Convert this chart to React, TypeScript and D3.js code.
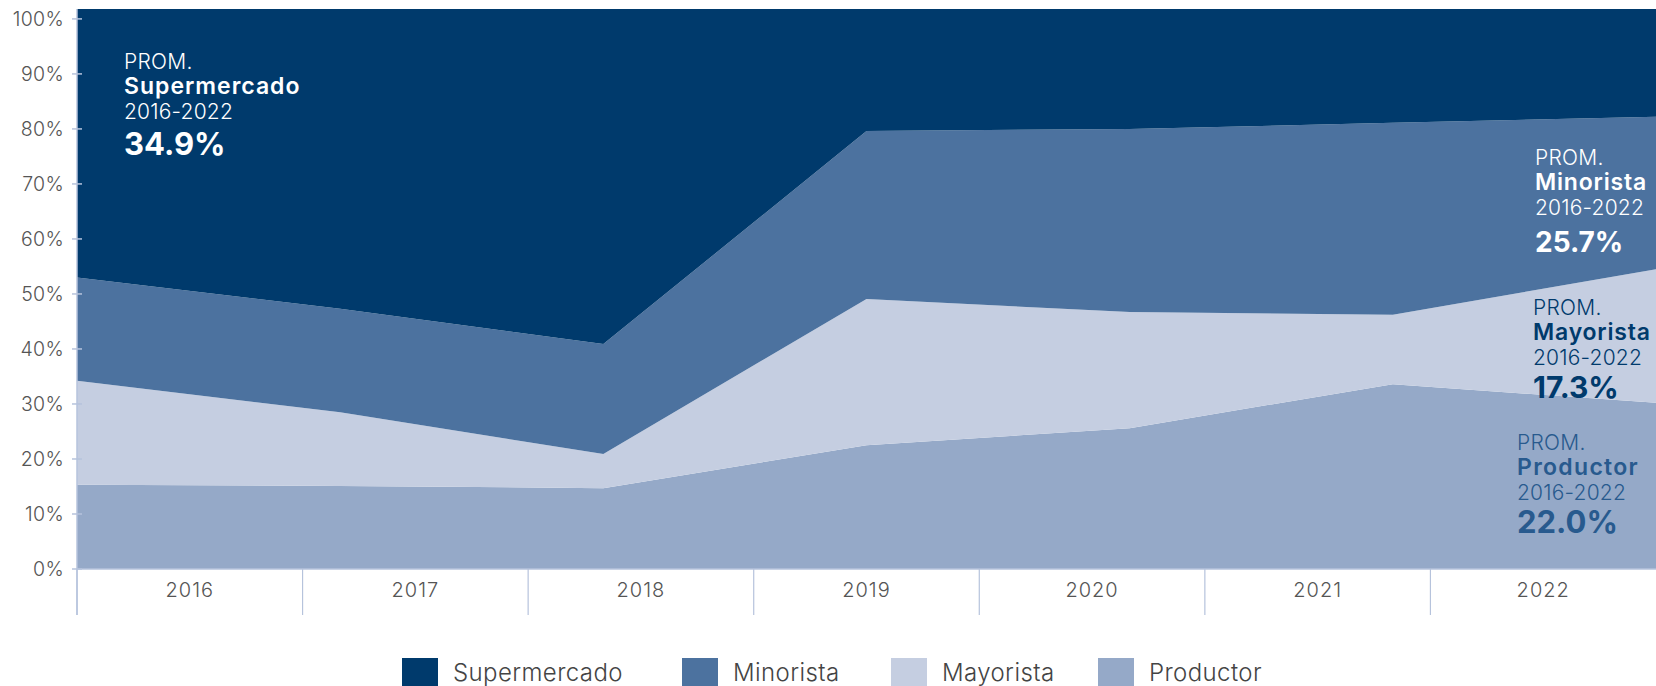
import React from "react";
import * as d3 from "d3";

const years = ["2016", "2017", "2018", "2019", "2020", "2021", "2022"];
const seriesKeys = ["Productor", "Mayorista", "Minorista", "Supermercado"];
const productor = [15.3, 15.1, 14.7, 22.5, 25.6, 33.6, 30.2];
const mayorista = [18.9, 13.4, 6.2, 26.6, 21.1, 12.6, 24.3];
const minorista = [18.8, 18.8, 20.0, 30.5, 33.3, 34.9, 27.7];
const supermercado = [47.0, 52.7, 59.1, 20.4, 20.0, 18.9, 17.8];
const yTicks = [0, 0.1, 0.2, 0.3, 0.4, 0.5, 0.6, 0.7, 0.8, 0.9, 1.0];
const legendOrder = ["Supermercado", "Minorista", "Mayorista", "Productor"];
const averages = { Supermercado: "34.9%", Minorista: "25.7%", Mayorista: "17.3%", Productor: "22.0%" };
const periodLabel = "2016-2022";
const promLabel = "PROM.";

const colors: Record<string, string> = {
  Supermercado: "#003a6c",
  Minorista: "#4c729f",
  Mayorista: "#c5cee1",
  Productor: "#95a9c8",
};

const W = 1656;
const H = 686;
const left = 77;
const right = 1656;
const bottom = 569;
const top = 9;
const yMax = 1.018;
const FONT = "Inter, 'Open Sans', sans-serif";
const AXIS_COLOR = "#b6c3dc";
const TEXT_COLOR = "#555555";

export default function App() {
  const table = years.map((yr, i) => ({
    year: yr,
    Productor: productor[i] / 100,
    Mayorista: mayorista[i] / 100,
    Minorista: minorista[i] / 100,
    Supermercado: supermercado[i] / 100,
  }));
  const stacked = d3.stack<any>().keys(seriesKeys)(table);
  const x = d3.scalePoint<string>().domain(years).range([left, right]);
  const xBand = d3.scaleBand<string>().domain(years).range([left, right]);
  const y = d3.scaleLinear().domain([0, yMax]).range([bottom, top]);

  const lastIndex = stacked.length - 1;
  const area = (li: number) =>
    d3
      .area<any>()
      .x((d) => x(d.data.year) as number)
      .y0((d) => y(d[0]))
      .y1((d) => (li === lastIndex ? y(yMax) : y(d[1])))
      .curve(d3.curveLinear);

  const bandEdges = years.map((yr) => xBand(yr) as number);

  const annotations = [
    { key: "Supermercado", x: 124, y0: 69, color: "#ffffff", num: 31, numDy: 86, ls: 1 },
    { key: "Minorista", x: 1535, y0: 165, color: "#ffffff", num: 28, numDy: 87, ls: 0.8 },
    { key: "Mayorista", x: 1533, y0: 315, color: "#003a6c", num: 30, numDy: 83, ls: 0.8 },
    { key: "Productor", x: 1517, y0: 450, color: "#285a8e", num: 31, numDy: 83, ls: 1.3 },
  ];
  const legendX = [402, 682, 891, 1098];

  return (
    <div style={{ position: "absolute", left: 0, top: 0 }}>
      <svg width={W} height={H} style={{ display: "block", fontFamily: FONT }}>
        <rect width={W} height={H} fill="#ffffff" />
        {stacked.map((s, li) => (
          <path key={s.key} d={area(li)(s as any) || ""} fill={colors[s.key]} />
        ))}
        {/* y axis */}
        <line x1={left} x2={left} y1={top} y2={615} stroke={AXIS_COLOR} strokeWidth={1.5} />
        {yTicks.map((t) => (
          <g key={t}>
            <line x1={left - 5} x2={left + 5} y1={y(t)} y2={y(t)} stroke={AXIS_COLOR} strokeWidth={1.5} />
            <text
              x={64}
              y={y(t)}
              dy="0.36em"
              textAnchor="end"
              fontSize={19.5}
              fontWeight={300}
              fill={TEXT_COLOR}
              letterSpacing={0.3}
            >
              {d3.format(".0%")(t)}
            </text>
          </g>
        ))}
        {/* x axis */}
        <line x1={left} x2={right} y1={bottom} y2={bottom} stroke={AXIS_COLOR} strokeWidth={1.5} />
        {bandEdges.map((e, i) => (
          <line key={i} x1={e} x2={e} y1={bottom} y2={615} stroke={AXIS_COLOR} strokeWidth={1.2} />
        ))}
        {years.map((yr) => (
          <text
            key={yr}
            x={(xBand(yr) as number) + xBand.bandwidth() / 2}
            y={597}
            textAnchor="middle"
            fontSize={20}
            fontWeight={300}
            fill={TEXT_COLOR}
            letterSpacing={1}
          >
            {yr}
          </text>
        ))}
        {/* annotations */}
        {annotations.map((a) => (
          <text key={a.key} x={a.x} fill={a.color}>
            <tspan x={a.x} y={a.y0} fontSize={21} fontWeight={300} letterSpacing={0.3}>
              {promLabel}
            </tspan>
            <tspan x={a.x} y={a.y0 + 25} fontSize={23} fontWeight={600} letterSpacing={a.ls}>
              {a.key}
            </tspan>
            <tspan x={a.x} y={a.y0 + 50} fontSize={21} fontWeight={300} letterSpacing={0.2}>
              {periodLabel}
            </tspan>
            <tspan x={a.x} y={a.y0 + a.numDy} fontSize={a.num} fontWeight={700}>
              {(averages as any)[a.key]}
            </tspan>
          </text>
        ))}
        {/* legend */}
        {legendOrder.map((k, i) => (
          <g key={k} transform={`translate(${legendX[i]},658)`}>
            <rect width={36} height={30} fill={colors[k]} />
            <text x={51} y={23} fontSize={24} fontWeight={300} fill="#444444" letterSpacing={0.4}>
              {k}
            </text>
          </g>
        ))}
      </svg>
    </div>
  );
}
